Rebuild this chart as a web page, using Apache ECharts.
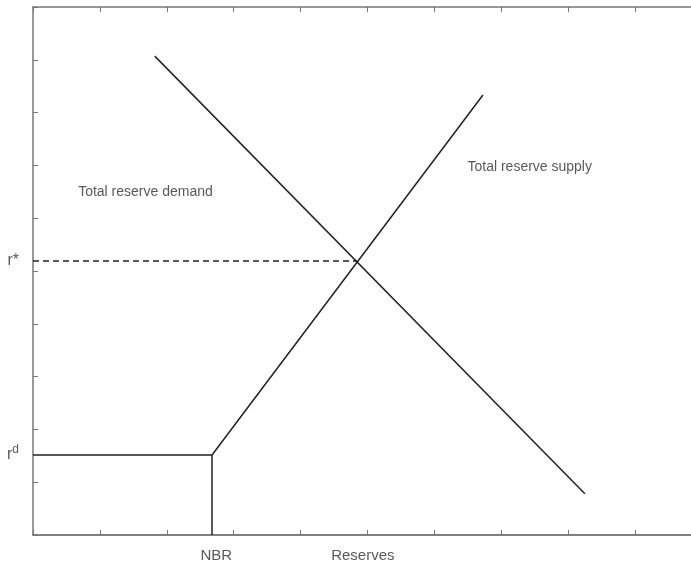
<!DOCTYPE html>
<html>
<head>
<meta charset="utf-8">
<script src="https://cdn.jsdelivr.net/npm/echarts@6/dist/echarts.min.js"></script>
<style>
html,body{margin:0;padding:0;background:#fff;}
#chart{width:691px;height:562px;}
</style>
</head>
<body>
<div id="chart"></div>
<script>
// curves, in axis units (x 0..~9.8 visible, y 0..10)
var demandLine = [[1.82, 9.07], [8.25, 0.78]];
var supplyLine = [[0, 1.515], [2.676, 1.515], [6.726, 8.333]];
var nbrLine = [[2.676, 1.515], [2.676, 0]];
var rStarLine = [[0, 5.19], [4.843, 5.19]];
// text labels: x, y, text
var yMarks = [[0, 5.19, 'r*'], [0, 1.515, 'rd']];
var notes = [[0.6, 6.5, 'Total reserve demand'], [6.42, 6.97, 'Total reserve supply']];
var xMarks = [[2.74, 0, 'NBR'], [4.93, 0, 'Reserves']];

var lineCol = '#222';
var axisCol = '#777';
var textCol = '#2e2e2e';
var font = 'Liberation Sans, Arial, sans-serif';
var xMax = 9.836; // picture is cut off just before x = 10

function lineSeries(data, dashed) {
    return {
        type: 'line',
        data: data,
        symbol: 'none',
        silent: true,
        lineStyle: {color: lineCol, width: 1.5, type: dashed ? [6, 4] : 'solid'}
    };
}
function textSeries(data, pos, off, size) {
    return {
        type: 'scatter',
        data: data,
        symbolSize: 0,
        silent: true,
        label: {
            show: true,
            position: pos,
            offset: off || [0, 0],
            color: textCol,
            fontFamily: font,
            fontSize: size || 14,
            formatter: function (p) {
                if (p.value[2] === 'rd') return '{a|r}{b|d}';
                return p.value[2];
            },
            rich: {
                a: {fontSize: 16, color: textCol, fontFamily: font},
                b: {fontSize: 12, color: textCol, verticalAlign: 'top', padding: [0, 0, 10, 0], fontFamily: font}
            }
        }
    };
}

var chart = echarts.init(document.getElementById('chart'));
chart.setOption({
    animation: false,
    grid: {left: 33, top: 7, right: 0, bottom: 27},
    xAxis: [{
        type: 'value', min: 0, max: xMax, interval: 1,
        axisLine: {lineStyle: {color: '#555', width: 1.5}},
        axisTick: {inside: true, length: 5, lineStyle: {color: axisCol}},
        axisLabel: {show: false},
        splitLine: {show: false}
    }, {
        type: 'value', min: 0, max: xMax, interval: 1, position: 'top',
        axisLine: {show: true, lineStyle: {color: axisCol, width: 1.5}},
        axisTick: {inside: true, length: 5, lineStyle: {color: axisCol}},
        axisLabel: {show: false},
        splitLine: {show: false}
    }],
    yAxis: {
        type: 'value', min: 0, max: 10, interval: 1,
        axisLine: {show: true, lineStyle: {color: axisCol, width: 1.5}},
        axisTick: {show: true, inside: true, length: 5, lineStyle: {color: axisCol}},
        axisLabel: {show: false},
        splitLine: {show: false}
    },
    series: [
        lineSeries(demandLine),
        lineSeries(supplyLine),
        lineSeries(nbrLine),
        lineSeries(rStarLine, true),
        textSeries(yMarks, 'left', [-9, 0], 16),
        textSeries(notes, 'right'),
        textSeries(xMarks, 'bottom', [0, 8], 15)
    ]
});
</script>
</body>
</html>
